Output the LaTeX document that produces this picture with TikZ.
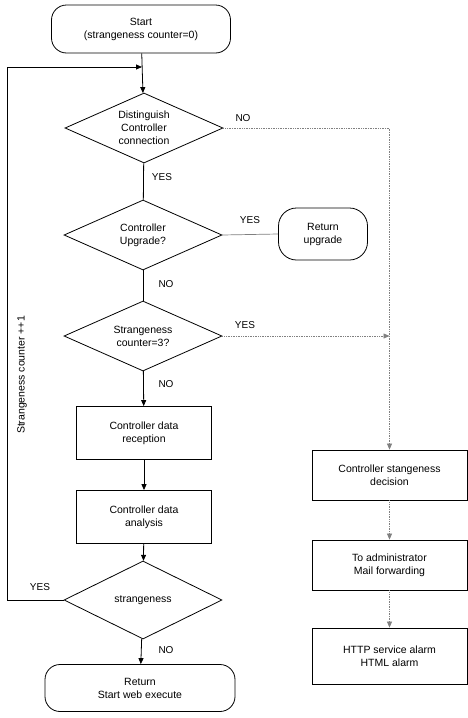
\documentclass[tikz,border=0pt]{standalone}
\usepackage{fontspec}
\setmainfont{Liberation Sans}
\usetikzlibrary{shapes.geometric,arrows.meta}
\tikzset{
  term/.style     = {draw, rounded corners=15pt, align=center, line width=0.8pt},
  decision/.style = {draw, diamond, aspect=2.2, minimum width=158pt, minimum height=70pt,
                     inner sep=0pt, align=center, line width=0.8pt},
  process/.style  = {draw, rectangle, minimum width=135pt, minimum height=53pt,
                     align=center, line width=0.8pt},
  flow/.style     = {line width=0.8pt, -{Triangle[length=6pt,width=5pt]}},
  weak/.style     = {gray, densely dotted, line width=0.7pt},
  answer/.style   = {font=\fontsize{10}{12}\selectfont},
}
\begin{document}
\begin{tikzpicture}[x=1pt, y=-1pt, font=\fontsize{10.5}{13}\selectfont]
        \useasboundingbox (0,0) rectangle (468,718);
        \node[term, minimum width=179pt, minimum height=48pt] (start) at (141,29)
              {Start\\(strangeness counter=0)};
        \node[decision] (d1) at (144,128) {Distinguish\\Controller\\connection};
        \node[decision] (d2) at (143,235) {Controller\\Upgrade?};
        \node[decision] (d3) at (143,336) {Strangeness\\counter=3?};
        \node[process]  (recv) at (144,433) {Controller data\\reception};
        \node[process]  (anal) at (144,517) {Controller data\\analysis};
        \node[decision, minimum height=78pt] (d4) at (143,600) {strangeness};
        \node[term, minimum width=190pt, minimum height=47pt] (ret) at (140,688)
              {Return\\Start web execute};
        \node[term, rounded corners=18pt, minimum width=89pt, minimum height=52pt] (upg)
              at (323,234) {Return\\upgrade};
        \node[process, minimum width=155pt, minimum height=50pt] (judge) at (389.5,475)
              {Controller stangeness\\decision};
        \node[process, minimum width=155pt, minimum height=50pt] (mail) at (389.5,565)
              {To administrator\\Mail forwarding};
        \node[process, minimum width=155pt, minimum height=56pt] (alarm) at (389.5,656)
              {HTTP service alarm\\HTML alarm};
        \coordinate (loopin) at (142,67);
        \coordinate (loopbot) at (7,600);
        \coordinate (looptop) at (7,67);
        \draw[flow]              (start) -- (d1);
        \draw[line width=0.8pt]  (d1) -- (d2);
        \draw[line width=0.8pt]  (d2) -- (d3);
        \draw[flow]              (d3) -- (recv);
        \draw[flow]              (recv) -- (anal);
        \draw[flow]              (anal) -- (d4);
        \draw[flow]              (d4) -- (ret);
        \draw[flow]              (d4.west) -- (loopbot) -- (looptop) -- (loopin);
        \draw[gray, line width=0.7pt] (d2.east) -- (upg.west);
        \draw[weak, -{Triangle[length=6pt,width=5pt]}] (d1.east) -- (d1.east -| judge.north) -- (judge.north);
        \draw[weak, -{Triangle[length=6pt,width=5pt]}] (d3.east) -- (d3.east -| judge.north);
        \draw[weak, -{Triangle[length=6pt,width=5pt]}] (judge) -- (mail);
        \draw[weak, -{Triangle[length=6pt,width=5pt]}] (mail) -- (alarm);
        \node[answer] (no1)  at (243,118) {NO};
        \node[answer] (yes1) at (162,177) {YES};
        \node[answer] (yes2) at (250,220) {YES};
        \node[answer] (no2)  at (166,284) {NO};
        \node[answer] (yes3) at (245,325) {YES};
        \node[answer] (no3)  at (166,384) {NO};
        \node[answer] (yes4) at (40,587)  {YES};
        \node[answer] (no4)  at (166,650) {NO};
        \node[rotate=90] (count) at (22,375) {Strangeness counter ++1};
      \end{tikzpicture}
\end{document}
